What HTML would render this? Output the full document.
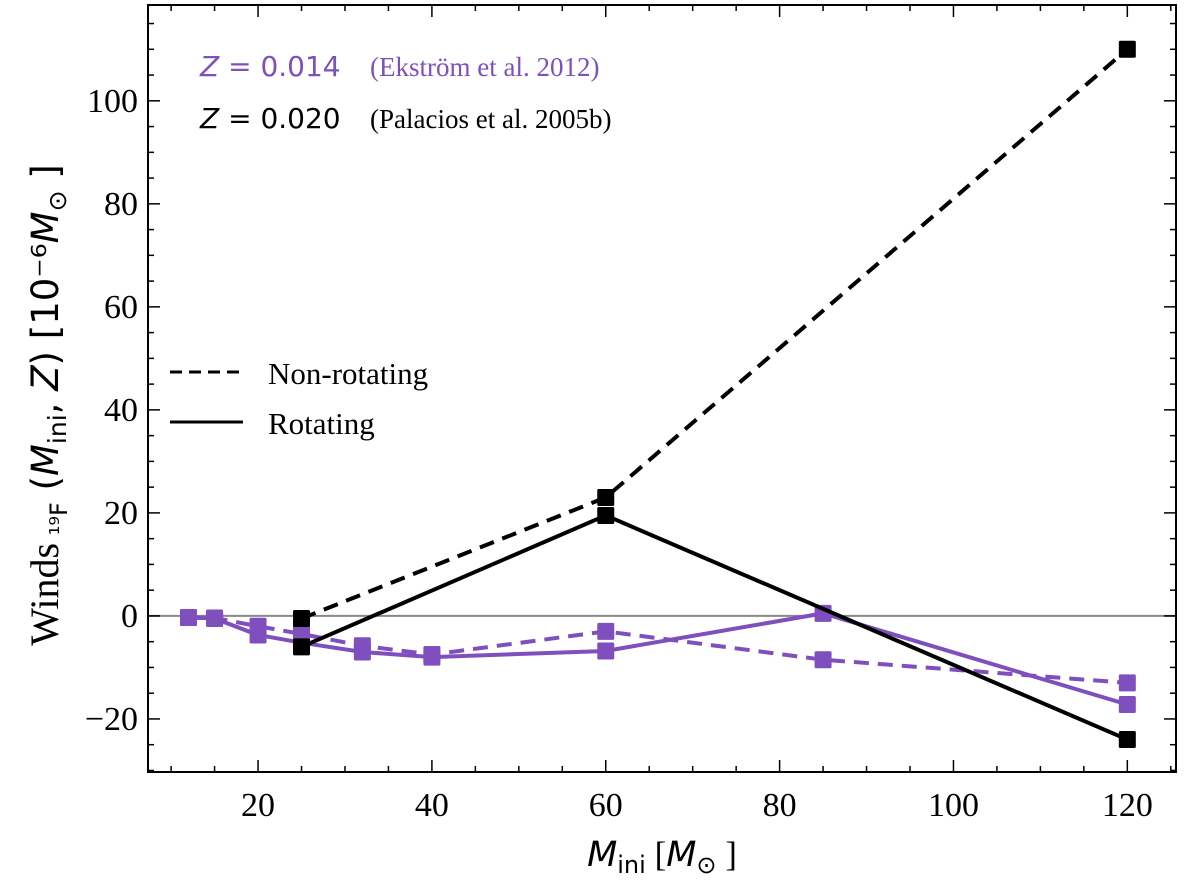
<!DOCTYPE html>
<html><head><meta charset="utf-8"><style>
body{margin:0;background:#fff;}
</style></head><body>
<svg id="chart" width="1200" height="887" viewBox="0 0 1200 887" xmlns="http://www.w3.org/2000/svg" style="position:absolute;left:0;top:0" font-family="Liberation Serif, serif">
<g id="plot"></g>
</svg>
<script>
const masses12 = [12,15,20,25,32,40,60,85,120];
const purpleDashed = [-0.3,-0.4,-2.0,-3.5,-5.8,-7.5,-3.0,-8.5,-13];
const purpleSolid = [-0.3,-0.5,-3.7,-5.2,-7.0,-8.0,-6.8,0.5,-17.2];
const masses20 = [25,60,120];
const blackDashed = [-0.5,23,110];
const blackSolid = [-6,19.5,-24];
const xTicks = [20,40,60,80,100,120];
const yTicks = [-20,0,20,40,60,80,100];

const L=148,R=1176,T=5,B=772;
const xmin=7.34,xmax=125.6,ymin=-30.3,ymax=118.6;
const sx=v=>L+(v-xmin)/(xmax-xmin)*(R-L);
const sy=v=>B-(v-ymin)/(ymax-ymin)*(B-T);
const NS="http://www.w3.org/2000/svg";
const g=document.getElementById('plot');
function mk(tag,attrs,parent){const e=document.createElementNS(NS,tag);for(const k in attrs)e.setAttribute(k,attrs[k]);(parent||g).appendChild(e);return e;}

const zl=mk('line',{x1:L,x2:R,y1:sy(0),y2:sy(0),stroke:'#888','stroke-width':2});



function series(xs,ys,color,dash,name){
  const pts=xs.map((x,i)=>sx(x)+','+sy(ys[i])).join(' ');
  const pl=mk('polyline',{points:pts,fill:'none',stroke:color,'stroke-width':4,'stroke-dasharray':dash?'15,9':'none'});
  
  
  xs.forEach((x,i)=>{
    const r=mk('rect',{x:sx(x)-8.5,y:sy(ys[i])-8.5,width:17,height:17,fill:color,rx:1.5});
    
    
  });
}
const P='#7f4fbd';
series(masses12,purpleDashed,P,true,'z014-nonrotating');
series(masses12,purpleSolid,P,false,'z014-rotating');
series(masses20,blackDashed,'#000',true,'z020-nonrotating');
series(masses20,blackSolid,'#000',false,'z020-rotating');

const fr=mk('rect',{x:L,y:T,width:R-L,height:B-T,fill:'none',stroke:'#000','stroke-width':2});



for(let v=10;v<=125;v+=5){
  const major=v%20===0;const len=major?12:6;const x=sx(v);
  mk('line',{x1:x,x2:x,y1:B,y2:B-len,stroke:'#000','stroke-width':1.5});
  mk('line',{x1:x,x2:x,y1:T,y2:T+len,stroke:'#000','stroke-width':1.5});
}
for(let v=-30;v<=115;v+=5){
  const major=v%20===0;const len=major?12:6;const y=sy(v);
  mk('line',{x1:L,x2:L+len,y1:y,y2:y,stroke:'#000','stroke-width':1.5});
  mk('line',{x1:R,x2:R-len,y1:y,y2:y,stroke:'#000','stroke-width':1.5});
}
xTicks.forEach(v=>{
  const t=mk('text',{x:sx(v),y:B+44,'text-anchor':'middle','font-size':34});
  t.textContent=v;
  
  
});
yTicks.forEach(v=>{
  const t=mk('text',{x:L-10,y:sy(v)+11,'text-anchor':'end','font-size':34});
  t.textContent=v<0?'\u2212'+(-v):v;
  
  
});
</script>
<svg style="position:absolute;left:0;top:0" width="1200" height="887" xmlns="http://www.w3.org/2000/svg" font-family="Liberation Serif, serif">
<text x="662" y="866" text-anchor="middle" font-size="35" font-family="DejaVu Sans, sans-serif"><tspan font-style="italic">M</tspan><tspan font-size="24" dy="7">ini</tspan><tspan dy="-7" font-family="Liberation Serif, serif"> [</tspan><tspan font-style="italic">M</tspan><tspan font-size="24" dy="7">⊙</tspan><tspan dy="-7" font-family="Liberation Serif, serif"> ]</tspan></text>
<text transform="translate(58,405) rotate(-90)" text-anchor="middle" font-size="37" font-family="DejaVu Sans, sans-serif"><tspan font-family="Liberation Serif, serif" font-size="40">Winds</tspan><tspan font-size="24" dy="9"> ¹⁹F</tspan><tspan dy="-9"> (<tspan font-style="italic">M</tspan><tspan font-size="25" dy="8">ini</tspan><tspan dy="-8">, </tspan><tspan font-style="italic">Z</tspan>) [10⁻⁶<tspan font-style="italic">M</tspan><tspan font-size="25" dy="8">⊙</tspan><tspan dy="-8"> ]</tspan></tspan></text>
<g>
<text x="200" y="76" fill="#7f4fbd" font-size="28" font-family="DejaVu Sans, sans-serif"><tspan font-style="italic">Z</tspan> = 0.014</text>
<text x="370" y="76" fill="#7f4fbd" font-size="27" font-family="Liberation Serif, serif">(Ekström et al. 2012)</text>
<text x="200" y="128" fill="#000" font-size="28" font-family="DejaVu Sans, sans-serif"><tspan font-style="italic">Z</tspan> = 0.020</text>
<text x="370" y="128" fill="#000" font-size="27" font-family="Liberation Serif, serif">(Palacios et al. 2005b)</text>
</g>
<g>
<line x1="170" x2="243" y1="372" y2="372" stroke="#000" stroke-width="3" stroke-dasharray="12,7"/>
<text x="268" y="384" font-size="31">Non-rotating</text>
<line x1="170" x2="243" y1="422" y2="422" stroke="#000" stroke-width="3"/>
<text x="268" y="434" font-size="31">Rotating</text>
</g>
</svg>
</body></html>
